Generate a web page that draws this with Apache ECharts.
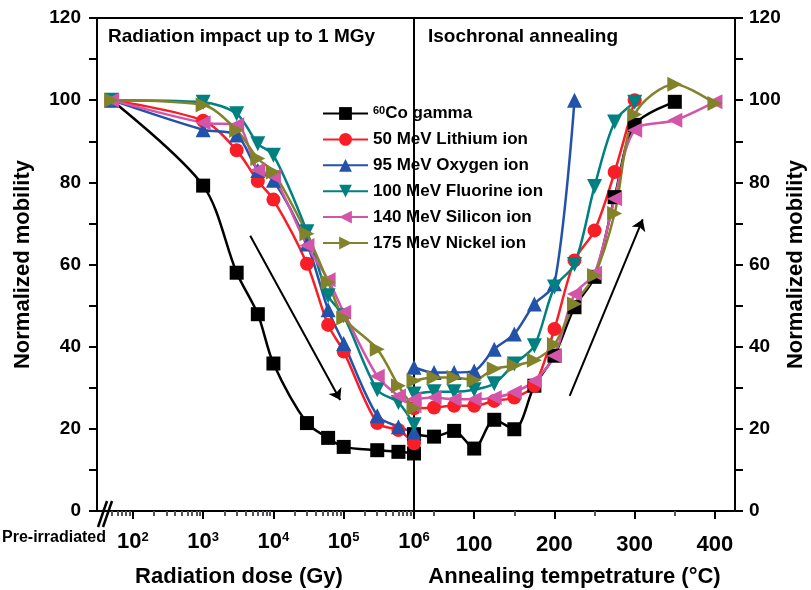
<!DOCTYPE html>
<html>
<head>
<meta charset="utf-8">
<script src="https://cdn.jsdelivr.net/npm/echarts@6.0.0/dist/echarts.min.js"></script>
<style>
    html, body { margin: 0; padding: 0; background: #fff; }
    #mobilityChart { width: 811px; height: 590px; }
</style>
</head>
<body>
<div id="mobilityChart"></div>
<script>
// radiation dose steps (Gy), first one is the pre-irradiated reference
var doseList = [50, 1e3, 3e3, 6e3, 1e4, 3e4, 6e4, 1e5, 3e5, 6e5, 1e6];
// annealing temperatures (°C)
var tempList = [25, 50, 75, 100, 125, 150, 175, 200, 225, 250, 275, 300, 350, 400];

var nameList = ['60Co gamma', '50 MeV Lithium ion', '95 MeV Oxygen ion',
    '100 MeV Fluorine ion', '140 MeV Silicon ion', '175 MeV Nickel ion'];

// normalized mobility vs dose
var gammaDose = [100, 79.2, 58, 47.9, 35.9, 21.4, 17.8, 15.6, 14.8, 14.4, 14.0];
var lithiumDose = [100, 95, 87.8, 80.3, 75.8, 60.2, 45.3, 38.8, 21.4, 19.7, 16.5];
var oxygenDose = [100, 92.8, 91.5, 82.9, 80.5, 65, 49, 40.8, 23.2, 20.5, 19.2];
var fluorineDose = [100, 99.5, 96.7, 89.4, 86.6, 68, 52.4, 47.5, 29.5, 26.4, 21];
var siliconDose = [100, 94.5, 94, 83, 81.5, 64.6, 56.3, 48.4, 32.8, 28, 25.6];
var nickelDose = [100, 98.8, 92.7, 85.8, 82.5, 67.5, 55.7, 47, 39.4, 30.5, 25];

// normalized mobility vs annealing temperature (taken from tempList in order)
var gammaAnneal = [18.7, 18.1, 19.5, 15.2, 22.2, 19.9, 30.5, 37.8, 49.6, 57, 76.4, 94, 99.6];
var lithiumAnneal = [25, 25.2, 25.6, 25.6, 26.8, 27.6, 30.5, 44.3, 61, 68.3, 82.5, 100];
var oxygenAnneal = [35, 33.7, 33.7, 34.1, 39.4, 43.1, 50.4, 55.3, 100];
var fluorineAnneal = [28.5, 29, 29, 29.5, 31, 35.8, 40.2, 54.5, 60, 79, 94.7, 99.5];
var siliconAnneal = [27.2, 27.6, 27.2, 27.2, 27.6, 28.9, 31.7, 37.8, 52.8, 57.9, 76, 92.7, 95.1, 99.6];
var nickelAnneal = [31.7, 32.5, 32.5, 31.9, 34.6, 35.4, 36.7, 40.5, 50.4, 57.3, 72.4, 96.5, 103.9, 99.2];

var yTicks = [0, 10, 20, 30, 40, 50, 60, 70, 80, 90, 100, 110, 120];
var yLabels = [0, 20, 40, 60, 80, 100, 120];
var doseDecades = [2, 3, 4, 5, 6];
var tempMajor = [100, 200, 300, 400];
var tempMinor = [50, 150, 250, 350];

var FONT = 'Liberation Sans, Arial, sans-serif';
var colorList = ['#000000', '#f81e28', '#2352aa', '#008080', '#d355a9', '#82822a'];
var symbolList = ['rect', 'circle', 'triangle', 'triangle', 'triangle', 'triangle'];
var rotateList = [0, 0, 0, 180, 90, -90];
var sizeList = [14, 14, 15, 15, 15, 15];

function doseMinorTicks() {
    var ticks = [];
    for (var n = 1; n <= 5; n++) {
        for (var k = 2; k <= 9; k++) {
            var v = Math.log10(k * Math.pow(10, n));
            if (v > 1.65) ticks.push(v);
        }
    }
    return ticks;
}

function buildSeries(idx, values, isDose) {
    return {
        name: nameList[idx],
        type: 'line',
        xAxisIndex: isDose ? 0 : 2,
        yAxisIndex: isDose ? 0 : 1,
        smooth: 0.3,
        symbol: symbolList[idx],
        symbolRotate: rotateList[idx],
        symbolSize: sizeList[idx],
        color: colorList[idx],
        lineStyle: {width: 2.5, color: colorList[idx]},
        itemStyle: {color: colorList[idx]},
        data: values.map(function (v, i) {
            return isDose ? [Math.log10(doseList[i]), v] : [tempList[i], v];
        })
    };
}

function arrowLine(from, to) {
    return {
        silent: true,
        symbol: ['none', 'arrow'],
        symbolSize: 11,
        lineStyle: {color: '#000', width: 2, type: 'solid'},
        label: {show: false},
        data: [[{coord: from}, {coord: to}]]
    };
}

var axisLineStyle = {show: true, lineStyle: {color: '#000', width: 2}};
var tickLabelStyle = {color: '#000', fontFamily: FONT, fontWeight: 'bold', fontSize: 19};

var chart = echarts.init(document.getElementById('mobilityChart'), null, {renderer: 'canvas'});

var seriesList = [];
var doseSets = [gammaDose, lithiumDose, oxygenDose, fluorineDose, siliconDose, nickelDose];
var annealSets = [gammaAnneal, lithiumAnneal, oxygenAnneal, fluorineAnneal, siliconAnneal, nickelAnneal];
for (var i = 0; i < 6; i++) {
    seriesList.push(buildSeries(i, doseSets[i], true));
    seriesList.push(buildSeries(i, annealSets[i], false));
}
// the two trend arrows
seriesList[0].markLine = arrowLine([3.67, 67], [4.95, 27]);
seriesList[1].markLine = arrowLine([219, 28], [310, 71]);

chart.setOption({
    animation: false,
    backgroundColor: '#fff',
    textStyle: {fontFamily: FONT},
    grid: [
        {left: 97, top: 18, width: 317, bottom: 79, show: true, borderColor: '#000', borderWidth: 2, outerBoundsMode: 'none'},
        {left: 414, top: 18, right: 76, bottom: 79, show: true, borderColor: '#000', borderWidth: 2, outerBoundsMode: 'none'}
    ],
    legend: {
        orient: 'vertical',
        left: 322,
        top: 105,
        padding: 0,
        itemWidth: 45,
        itemHeight: 16,
        itemGap: 8.9,
        selectedMode: false,
        data: nameList,
        formatter: function (name) {
            if (name === nameList[0]) return '{sup|60}{t|Co gamma}';
            return '{t|' + name + '}';
        },
        textStyle: {
            color: '#000', fontWeight: 'bold', fontSize: 17,
            rich: {
                t: {fontFamily: FONT, fontWeight: 'bold', fontSize: 17, color: '#000'},
                sup: {fontFamily: FONT, fontWeight: 'bold', fontSize: 11, color: '#000', verticalAlign: 'top'}
            }
        }
    },
    xAxis: [
        {
            gridIndex: 0, type: 'value', min: 1.49, max: 6, position: 'bottom',
            axisLine: axisLineStyle,
            axisTick: {customValues: doseDecades, length: 8, lineStyle: {width: 2}},
            splitLine: {show: false},
            axisLabel: {
                customValues: doseDecades, margin: 20,
                formatter: function (v) { return '{b|10}{s|' + Math.round(v) + '}'; },
                rich: {
                    b: {fontFamily: FONT, fontWeight: 'bold', fontSize: 22, color: '#000'},
                    s: {fontFamily: FONT, fontWeight: 'bold', fontSize: 13, color: '#000', verticalAlign: 'top'}
                }
            },
            name: 'Radiation dose (Gy)',
            nameLocation: 'middle',
            nameGap: 55,
            nameTextStyle: {color: '#000', fontFamily: FONT, fontWeight: 'bold', fontSize: 22, padding: [0, 33, 0, 0]}
        },
        {
            gridIndex: 0, type: 'value', min: 1.49, max: 6, position: 'bottom',
            axisLine: {show: false},
            axisTick: {customValues: doseMinorTicks(), length: 5, lineStyle: {width: 2}},
            axisLabel: {show: false},
            splitLine: {show: false}
        },
        {
            gridIndex: 1, type: 'value', min: 25, max: 425, position: 'bottom',
            axisLine: axisLineStyle,
            axisTick: {customValues: tempMajor, length: 8, lineStyle: {width: 2}},
            splitLine: {show: false},
            axisLabel: {customValues: tempMajor, margin: 23, color: '#000', fontFamily: FONT, fontWeight: 'bold', fontSize: 22},
            name: 'Annealing tempetrature (°C)',
            nameLocation: 'middle',
            nameGap: 55,
            nameTextStyle: {color: '#000', fontFamily: FONT, fontWeight: 'bold', fontSize: 22}
        },
        {
            gridIndex: 1, type: 'value', min: 25, max: 425, position: 'bottom',
            axisLine: {show: false},
            axisTick: {customValues: tempMinor, length: 5, lineStyle: {width: 2}},
            axisLabel: {show: false},
            splitLine: {show: false}
        }
    ],
    yAxis: [
        {
            gridIndex: 0, type: 'value', min: 0, max: 120, position: 'left',
            axisLine: axisLineStyle,
            axisTick: {customValues: yTicks, length: 8, lineStyle: {width: 2}},
            axisLabel: Object.assign({customValues: yLabels, margin: 16}, tickLabelStyle),
            splitLine: {show: false},
            name: 'Normalized mobility',
            nameLocation: 'middle',
            nameGap: 63,
            nameTextStyle: {color: '#000', fontFamily: FONT, fontWeight: 'bold', fontSize: 22}
        },
        {
            gridIndex: 1, type: 'value', min: 0, max: 120, position: 'right',
            axisLine: axisLineStyle,
            axisTick: {customValues: yTicks, length: 8, lineStyle: {width: 2}},
            axisLabel: Object.assign({customValues: yLabels, margin: 14}, tickLabelStyle),
            splitLine: {show: false},
            name: 'Normalized mobility',
            nameLocation: 'middle',
            nameRotate: 90,
            nameGap: 50,
            nameTextStyle: {color: '#000', fontFamily: FONT, fontWeight: 'bold', fontSize: 22}
        }
    ],
    graphic: [
        {type: 'text', left: 108, top: 27, style: {text: 'Radiation impact up to 1 MGy', fill: '#000', font: 'bold 19px ' + FONT}},
        {type: 'text', left: 428, top: 27, style: {text: 'Isochronal annealing', fill: '#000', font: 'bold 19px ' + FONT}},
        {type: 'text', left: 2, top: 530, style: {text: 'Pre-irradiated', fill: '#000', font: 'bold 16px ' + FONT}},
        // axis break mark
        {type: 'line', shape: {x1: 98, y1: 527, x2: 107, y2: 501}, style: {stroke: '#000', lineWidth: 2.5}},
        {type: 'line', shape: {x1: 103, y1: 527, x2: 112, y2: 501}, style: {stroke: '#000', lineWidth: 2.5}}
    ],
    series: seriesList
});
</script>
</body>
</html>
